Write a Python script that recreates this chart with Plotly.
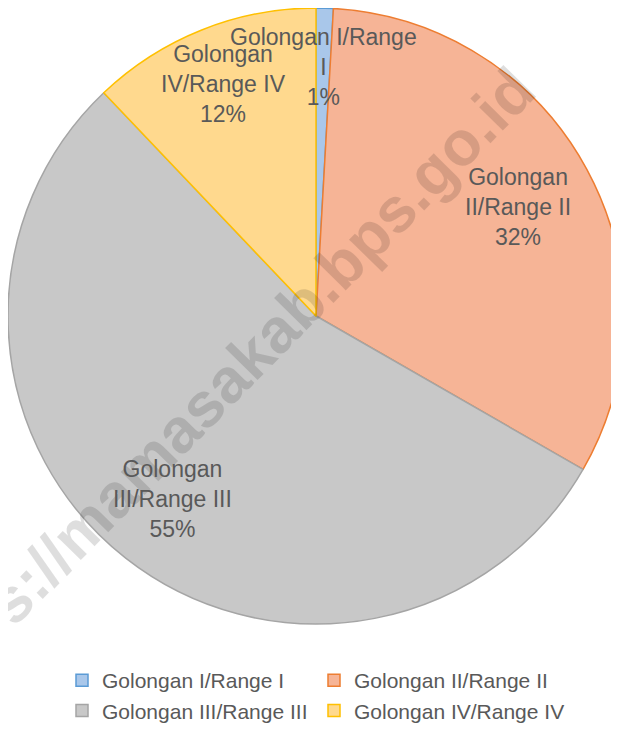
import math
import plotly.graph_objects as go

# ---- data ----
labels = ["Golongan I/Range I", "Golongan II/Range II", "Golongan III/Range III", "Golongan IV/Range IV"]
values = [0.9, 32.4, 54.6, 12.1]
label_text = ["Golongan I/Range<br>I", "Golongan<br>II/Range II", "Golongan<br>III/Range III", "Golongan<br>IV/Range IV"]

# ---- style ----
fill_colors = ["#A9C7EA", "#F6B496", "#C8C8C8", "#FFD98E"]
line_colors = ["#5B9BD5", "#ED7D31", "#A5A5A5", "#FFC000"]
label_radius_frac = [0.81, 0.745, 0.755, 0.81]
W, H = 619, 734
CX, CY, R = 308, 308, 308  # pixel geometry of pie (figure coords)

dom_x = [max(0.0, (CX - R) / W), min(1.0, (CX + R) / W)]
dom_y = [max(0.0, 1 - (CY + R) / H), min(1.0, 1 - (CY - R) / H)]

fig = go.Figure()
fig.add_trace(go.Pie(
    labels=labels,
    values=values,
    sort=False,
    direction="clockwise",
    rotation=0,
    textinfo="none",
    hoverinfo="label+percent",
    marker=dict(colors=fill_colors, line=dict(color=line_colors, width=1.5)),
    domain=dict(x=dom_x, y=dom_y),
))

annotations = []
# watermark
annotations.append(dict(
    text="<b>https://mamasakab.bps.go.id</b>",
    x=211 / W, y=1 - 380 / H, xref="paper", yref="paper",
    xanchor="center", yanchor="middle", showarrow=False, textangle=-45.5,
    font=dict(family="Liberation Sans, Arial, sans-serif", size=63, color="rgba(0,0,0,0.13)"),
))

total = sum(values)
cum = 0.0
for lab, v, f in zip(label_text, values, label_radius_frac):
    mid = (cum + v / 2) / total * 2 * math.pi
    cum += v
    px = CX + f * R * math.sin(mid)
    py = CY - f * R * math.cos(mid)
    pct = round(v / total * 100)
    annotations.append(dict(
        text=f"{lab}<br>{pct}%",
        x=px / W, y=1 - py / H, xref="paper", yref="paper",
        xanchor="center", yanchor="middle", showarrow=False,
        font=dict(family="Liberation Sans, Arial, sans-serif", size=23, color="#595959"),
    ))

fig.update_layout(
    width=W, height=H,
    margin=dict(l=0, r=0, t=0, b=0, autoexpand=False),
    paper_bgcolor="white",
    plot_bgcolor="white",
    showlegend=True,
    legend=dict(
        orientation="h",
        x=54 / W, xanchor="left",
        y=1 - 652 / H, yanchor="top",
        font=dict(family="Liberation Sans, Arial, sans-serif", size=21, color="#595959"),
        entrywidth=207, entrywidthmode="pixels",
        traceorder="normal",
    ),
    annotations=annotations,
)

fig.write_html("out.html")
